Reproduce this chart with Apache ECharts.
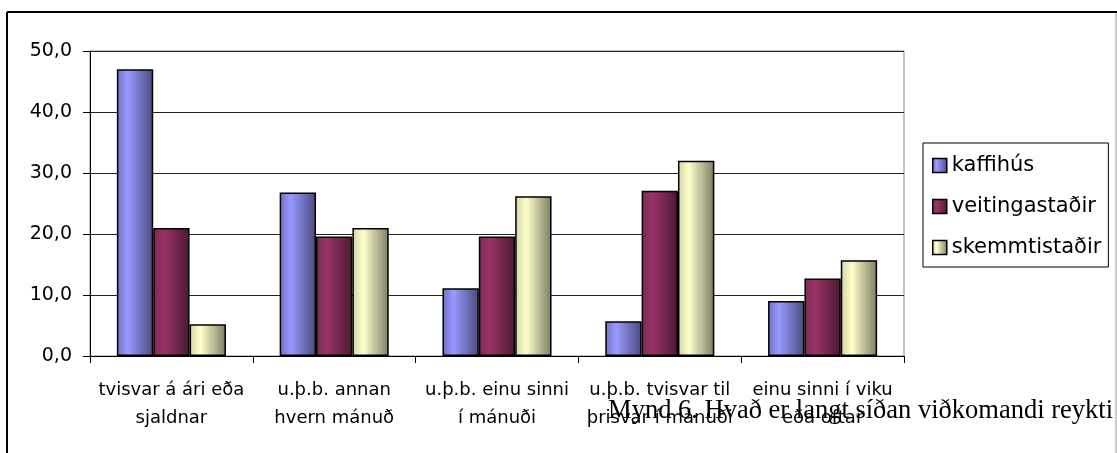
<!DOCTYPE html>
<html>
<head>
<meta charset="utf-8">
<script src="https://cdn.jsdelivr.net/npm/echarts@6/dist/echarts.min.js"></script>
<style>
html,body{margin:0;padding:0;background:#fff;}
#chart{width:1117px;height:453px;}
</style>
</head>
<body>
<div id="chart"></div>
<script>
const categories = [
  "tvisvar á ári eða\nsjaldnar",
  "u.þ.b. annan\nhvern mánuð",
  "u.þ.b. einu sinni\ní mánuði",
  "u.þ.b. tvisvar til\nþrisvar í mánuði",
  "einu sinni í viku\neða oftar"
];
const seriesNames = ["kaffihús", "veitingastaðir", "skemmtistaðir"];
const kaffihus = [47.0, 26.8, 11.1, 5.7, 9.0];
const veitingastadir = [21.0, 19.6, 19.6, 27.1, 12.7];
const skemmtistadir = [5.2, 21.0, 26.2, 32.0, 15.7];
const yTicks = [0, 10, 20, 30, 40, 50];
const caption = "Mynd 6. Hvað er langt síðan viðkomandi reykti";

function grad(edge, base, dark) {
  return new echarts.graphic.LinearGradient(0, 0, 1, 0, [
    {offset: 0, color: edge},
    {offset: 0.3, color: base},
    {offset: 1, color: dark}
  ]);
}
const fills = [
  grad('#7070c0', '#9999ff', '#4a4a7c'),
  grad('#7a2a52', '#993366', '#4a1931'),
  grad('#d2d2a6', '#ffffcc', '#7c7c63')
];
const dataSets = [kaffihus, veitingastadir, skemmtistadir];

const chart = echarts.init(document.getElementById('chart'), null, {renderer: 'canvas'});
const FONT = 'DejaVu Sans';
chart.setOption({
  animation: false,
  backgroundColor: '#fff',
  textStyle: {fontFamily: FONT},
  grid: {left: 90, right: 213, top: 51, bottom: 97, show: true, borderColor: '#888', borderWidth: 1},
  legend: {
    orient: 'vertical',
    left: 923, top: 143,
    padding: [12, 7, 9, 9],
    itemGap: 20,
    itemWidth: 14, itemHeight: 14,
    itemTextGap: 10,
    borderColor: '#000', borderWidth: 1,
    icon: 'rect',
    itemStyle: {borderColor: '#000', borderWidth: 1.5},
    textStyle: {fontFamily: FONT, fontSize: 21, color: '#000', lineHeight: 20},
    data: seriesNames
  },
  xAxis: {
    type: 'category',
    data: categories,
    axisLine: {show: true, lineStyle: {color: '#000', width: 1}},
    axisTick: {show: true, length: 7, lineStyle: {color: '#000'}},
    axisLabel: {
      interval: 0, margin: 20, color: '#000',
      fontFamily: FONT, fontSize: 18, lineHeight: 28, align: 'center'
    },
    splitLine: {show: false}
  },
  yAxis: {
    type: 'value',
    min: yTicks[0], max: yTicks[yTicks.length - 1], interval: 10,
    axisLine: {show: true, lineStyle: {color: '#000', width: 1}},
    axisTick: {show: true, length: 7, lineStyle: {color: '#000'}},
    axisLabel: {
      margin: 18, color: '#000', fontFamily: FONT, fontSize: 19,
      formatter: v => v.toFixed(1).replace('.', ',')
    },
    splitLine: {show: true, lineStyle: {color: '#222', width: 1}}
  },
  series: seriesNames.map((name, i) => ({
    name: name,
    type: 'bar',
    data: dataSets[i],
    barGap: '0%',
    barCategoryGap: '33%',
    itemStyle: {color: fills[i], borderColor: '#000', borderWidth: 1.5}
  })),
  graphic: [
    {type: 'line', shape: {x1: 7, y1: 12, x2: 1117, y2: 12}, style: {stroke: '#000', lineWidth: 2}, silent: true},
    {type: 'line', shape: {x1: 7, y1: 12, x2: 7, y2: 453}, style: {stroke: '#000', lineWidth: 2}, silent: true},
    {type: 'line', shape: {x1: 1116, y1: 13, x2: 1116, y2: 453}, style: {stroke: '#999', lineWidth: 1}, silent: true},
    {type: 'text', x: 1113, y: 411, z: 100,
      style: {text: caption, font: '26.5px "Liberation Serif"', fill: '#000', align: 'right', verticalAlign: 'middle'}}
  ]
});
</script>
</body>
</html>
